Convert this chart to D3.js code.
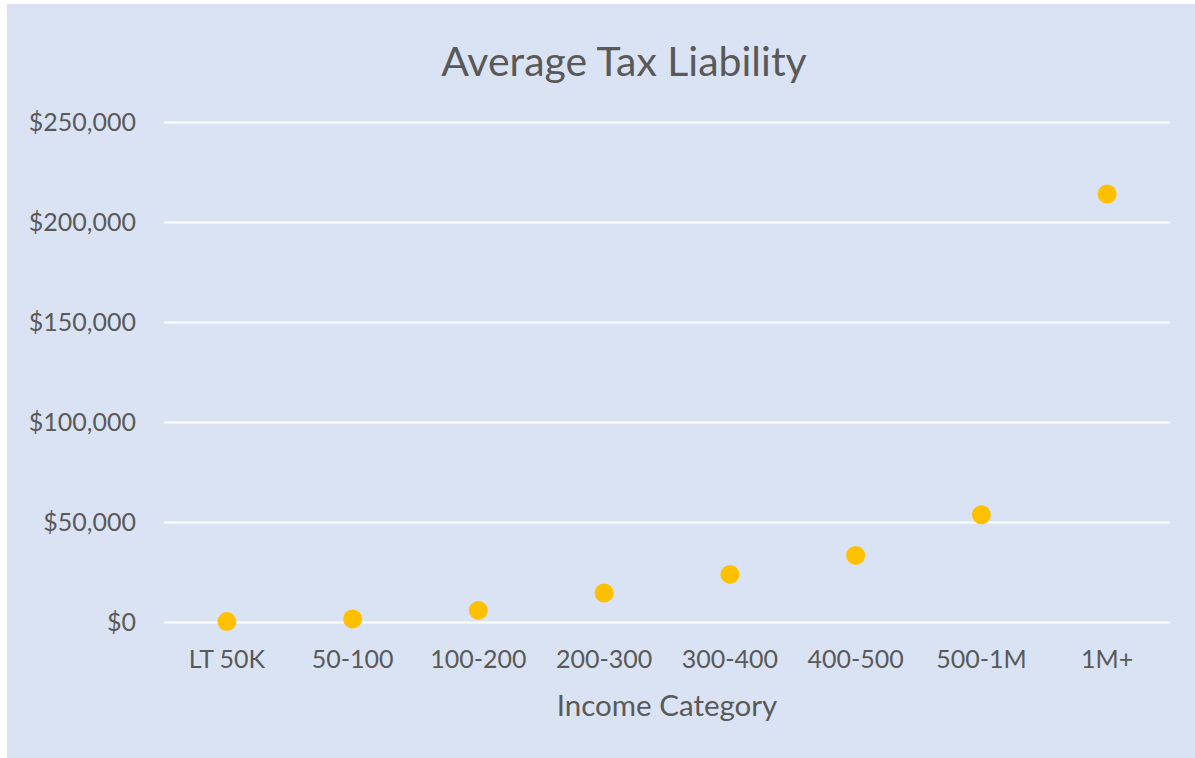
<!DOCTYPE html>
<html>
<head>
    <meta charset="utf-8">
    <title>Average Tax Liability</title>
    <script type="text/javascript" src="https://cdn.jsdelivr.net/npm/d3@7"></script>
    <style>
        body { margin: 0; background: #ffffff; }
        text { font-family: Lato, "Open Sans", sans-serif; fill: #595959; }
    </style>
</head>

<body>

<script type="text/javascript">

    // data
    var categories = ["LT 50K", "50-100", "100-200", "200-300", "300-400", "400-500", "500-1M", "1M+"];
    var avgTax = [200, 1500, 5800, 14500, 23800, 33300, 53600, 214000];
    var yTicks = [0, 50000, 100000, 150000, 200000, 250000];

    var width = 1195,
        height = 758,
        plotLeft = 164,
        plotRight = 1170,
        plotTop = 122,
        plotBottom = 622;

    var x = d3.scaleBand()
            .domain(categories)
            .range([plotLeft, plotRight]);

    var y = d3.scaleLinear()
            .domain([0, 250000])
            .range([plotBottom, plotTop]);

    var svg = d3.select("body").append("svg")
        .attr("width", width)
        .attr("height", height);

    // chart area background
    svg.append("rect")
        .attr("x", 7)
        .attr("y", 4)
        .attr("width", width - 7)
        .attr("height", height - 4)
        .attr("fill", "#dae3f3");

    svg.append("text")
        .attr("x", 624)
        .attr("y", 76)
        .attr("text-anchor", "middle")
        .style("font-size", "41px")
        .text("Average Tax Liability");

    // gridlines + y labels
    var yAxis = d3.axisLeft(y)
        .tickValues(yTicks)
        .tickSize(-(plotRight - plotLeft))
        .tickPadding(28)
        .tickFormat(function(d){ return "$" + d3.format(",")(d); });

    var gy = svg.append("g")
        .attr("transform", "translate(" + plotLeft + ",0)")
        .call(yAxis);
    gy.select(".domain").remove();
    gy.selectAll(".tick line")
        .attr("stroke", "#ffffff")
        .attr("stroke-width", 2);
    gy.selectAll(".tick text")
        .style("font-size", "25px")
        .attr("fill", "#595959");

    var xAxis = d3.axisBottom(x)
        .tickSize(0)
        .tickPadding(28);

    var gx = svg.append("g")
        .attr("transform", "translate(0," + plotBottom + ")")
        .call(xAxis);
    gx.select(".domain").remove();
    gx.selectAll(".tick text")
        .style("font-size", "25px")
        .attr("fill", "#595959");

    svg.append("text")
        .attr("x", 667)
        .attr("y", 716)
        .attr("text-anchor", "middle")
        .style("font-size", "29.5px")
        .text("Income Category");

    svg.selectAll("circle.pt")
        .data(avgTax)
        .enter()
        .append("circle")
        .attr("class", "pt")
        .attr("cx", function(d, i){ return x(categories[i]) + x.bandwidth() / 2; })
        .attr("cy", function(d){ return y(d); })
        .attr("r", 9.5)
        .attr("fill", "#ffc000");

</script>

</body>

</html>
